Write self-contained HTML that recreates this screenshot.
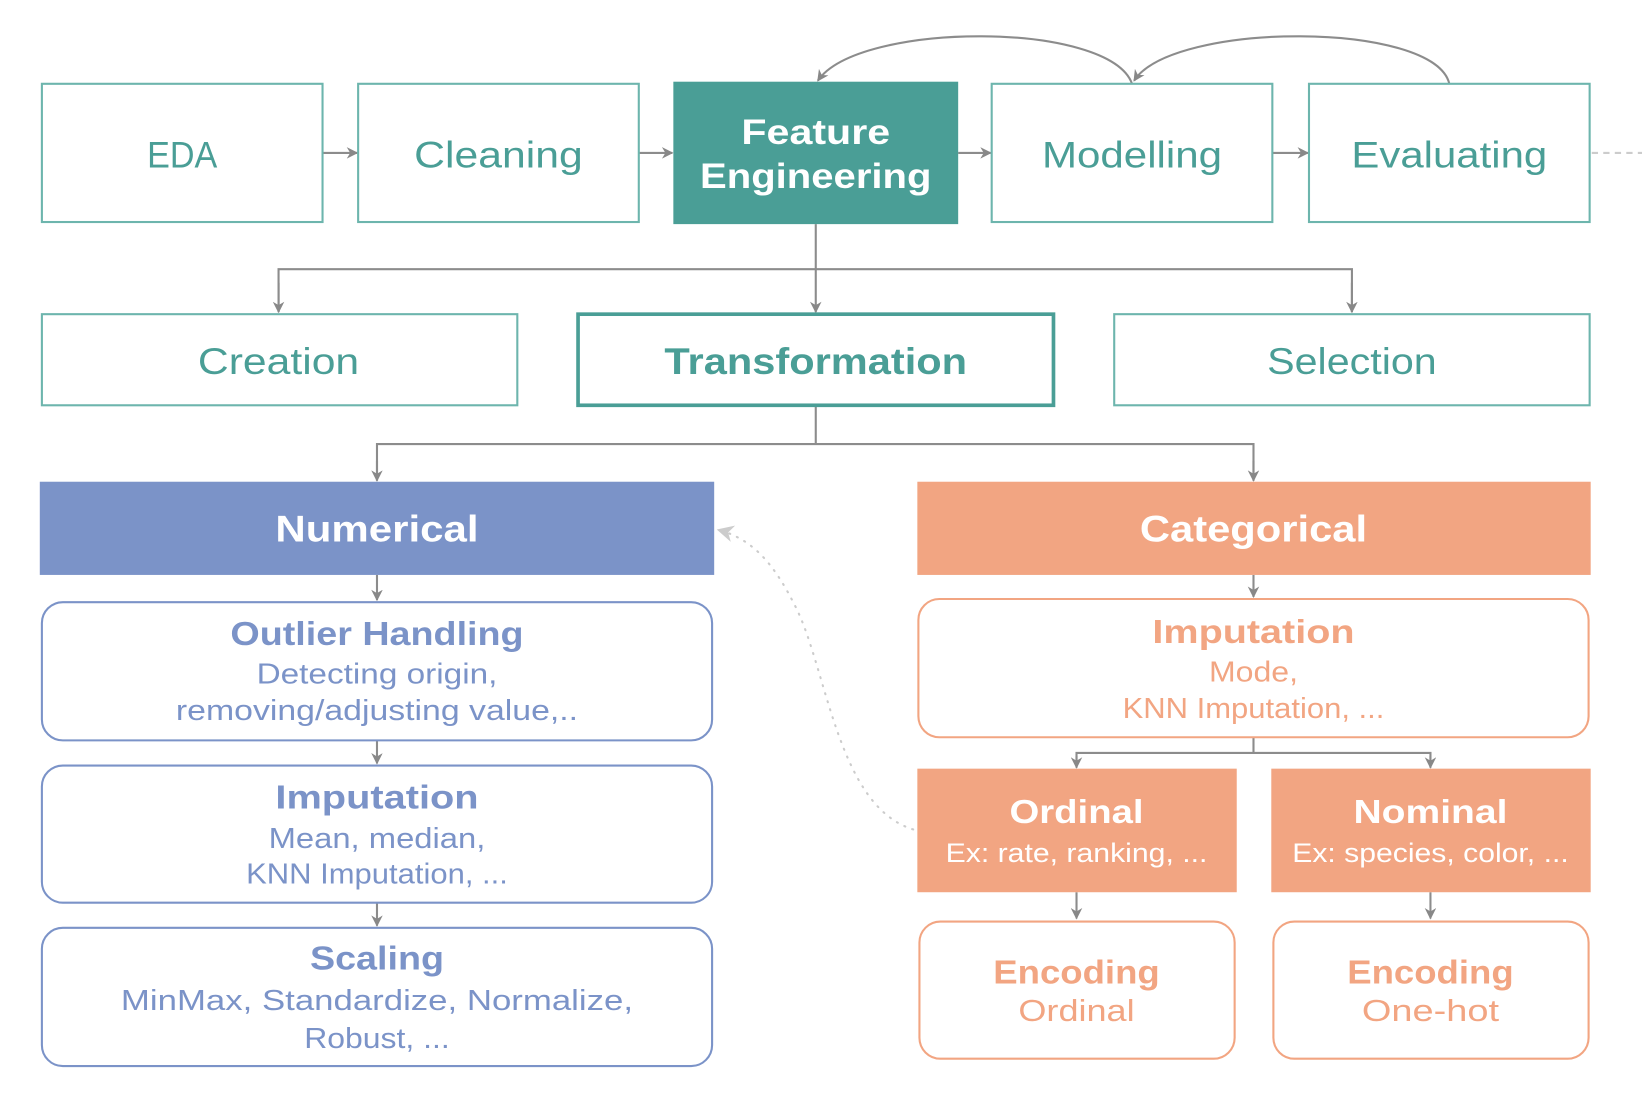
<!DOCTYPE html>
<html><head><meta charset="utf-8"><style>
html,body{margin:0;padding:0;background:#fff;}
svg{display:block;}
text{font-family:"Liberation Sans",sans-serif;text-anchor:middle;dominant-baseline:central;}
</style></head><body>
<svg width="1642" height="1102" viewBox="0 0 1568 1052.3" xmlns="http://www.w3.org/2000/svg">
<defs>
<marker id="a" viewBox="0 0 10 10" refX="9" refY="5" markerWidth="11" markerHeight="11" orient="auto-start-reverse" markerUnits="userSpaceOnUse"><path d="M0,0 L10,5 L0,10 L3,5 z" fill="#888"/></marker>
<marker id="b" viewBox="0 0 10 10" refX="9" refY="5" markerWidth="16" markerHeight="16" orient="auto" markerUnits="userSpaceOnUse"><path d="M0,0 L10,5 L0,10 L3,5 z" fill="#ccc"/></marker>
</defs>
<g stroke="#8c8c8c" stroke-width="2" fill="none">
<line x1="308" y1="146" x2="341" y2="146" marker-end="url(#a)"/>
<line x1="610" y1="146" x2="642" y2="146" marker-end="url(#a)"/>
<line x1="915" y1="146" x2="946" y2="146" marker-end="url(#a)"/>
<line x1="1215" y1="146" x2="1249" y2="146" marker-end="url(#a)"/>
<path d="M1081,80 C1060,20 820,20 781,77" marker-end="url(#a)"/>
<path d="M1384,80 C1370,20 1120,20 1083,77" marker-end="url(#a)"/>
<line x1="779" y1="214" x2="779" y2="298" marker-end="url(#a)"/>
<path d="M266,298 V257 H1291 V298" />
<line x1="266" y1="270" x2="266" y2="298" marker-end="url(#a)"/>
<line x1="1291" y1="270" x2="1291" y2="298" marker-end="url(#a)"/>
<line x1="779" y1="388" x2="779" y2="424"/>
<path d="M360,459 V424 H1197 V459"/>
<line x1="360" y1="440" x2="360" y2="459" marker-end="url(#a)"/>
<line x1="1197" y1="440" x2="1197" y2="459" marker-end="url(#a)"/>
<line x1="360" y1="549" x2="360" y2="573" marker-end="url(#a)"/>
<line x1="360" y1="707" x2="360" y2="729" marker-end="url(#a)"/>
<line x1="360" y1="862" x2="360" y2="884" marker-end="url(#a)"/>
<line x1="1197" y1="549" x2="1197" y2="570" marker-end="url(#a)"/>
<path d="M1197,704 V719 M1028,733 V719 H1366 V733"/>
<line x1="1028" y1="722" x2="1028" y2="733" marker-end="url(#a)"/>
<line x1="1366" y1="722" x2="1366" y2="733" marker-end="url(#a)"/>
<line x1="1028" y1="852" x2="1028" y2="877" marker-end="url(#a)"/>
<line x1="1366" y1="852" x2="1366" y2="877" marker-end="url(#a)"/>
</g>
<line x1="1520" y1="146" x2="1568" y2="146" stroke="#ccc" stroke-width="2" stroke-dasharray="6,5"/>
<path d="M872,792 C800,770 790,640 760,580 C740,540 720,515 686,506" fill="none" stroke="#ccc" stroke-width="2" stroke-dasharray="1,7" stroke-linecap="round" marker-end="url(#b)"/>

<g fill="#fff" stroke="#6db5ad" stroke-width="2">
<rect x="40" y="80" width="268" height="132"/>
<rect x="342" y="80" width="268" height="132"/>
<rect x="947" y="80" width="268" height="132"/>
<rect x="1250" y="80" width="268" height="132"/>
<rect x="40" y="300" width="454" height="87"/>
<rect x="1064" y="300" width="454" height="87"/>
</g>
<rect x="643" y="78" width="272" height="136" fill="#4a9e96"/>
<rect x="552" y="300" width="454" height="87" fill="#fff" stroke="#4a9e96" stroke-width="3.5"/>
<g fill="#4a9e96" font-size="35" lengthAdjust="spacingAndGlyphs">
<text x="174" y="148" textLength="67" lengthAdjust="spacingAndGlyphs">EDA</text>
<text x="476" y="148" textLength="161" lengthAdjust="spacingAndGlyphs">Cleaning</text>
<text x="1081" y="148" textLength="172" lengthAdjust="spacingAndGlyphs">Modelling</text>
<text x="1384" y="148" textLength="187" lengthAdjust="spacingAndGlyphs">Evaluating</text>
<text x="266" y="345" textLength="154" lengthAdjust="spacingAndGlyphs">Creation</text>
<text x="1291" y="345" textLength="162" lengthAdjust="spacingAndGlyphs">Selection</text>
<text x="779" y="345" font-weight="bold" textLength="289" lengthAdjust="spacingAndGlyphs">Transformation</text>
</g>
<text x="779" y="126" fill="#fff" font-weight="bold" font-size="34" textLength="142" lengthAdjust="spacingAndGlyphs">Feature</text>
<text x="779" y="168" fill="#fff" font-weight="bold" font-size="34" textLength="221" lengthAdjust="spacingAndGlyphs">Engineering</text>

<rect x="38" y="460" width="644" height="89" fill="#7b93c8"/>
<text x="360" y="505" fill="#fff" font-weight="bold" font-size="35" textLength="194" lengthAdjust="spacingAndGlyphs">Numerical</text>
<g fill="#fff" stroke="#7b93c8" stroke-width="2">
<rect x="40" y="575" width="640" height="132" rx="20"/>
<rect x="40" y="731" width="640" height="131" rx="20"/>
<rect x="40" y="886" width="640" height="132" rx="20"/>
</g>
<g fill="#7b93c8" font-size="27">
<text x="360" y="606" font-weight="bold" font-size="32" textLength="280" lengthAdjust="spacingAndGlyphs">Outlier Handling</text>
<text x="360" y="643" textLength="230" lengthAdjust="spacingAndGlyphs">Detecting origin,</text>
<text x="360" y="678" textLength="384" lengthAdjust="spacingAndGlyphs">removing/adjusting value,..</text>
<text x="360" y="762" font-weight="bold" font-size="32" textLength="194" lengthAdjust="spacingAndGlyphs">Imputation</text>
<text x="360" y="800" textLength="207" lengthAdjust="spacingAndGlyphs">Mean, median,</text>
<text x="360" y="834" textLength="250" lengthAdjust="spacingAndGlyphs">KNN Imputation, ...</text>
<text x="360" y="916" font-weight="bold" font-size="32" textLength="128" lengthAdjust="spacingAndGlyphs">Scaling</text>
<text x="360" y="955" textLength="489" lengthAdjust="spacingAndGlyphs">MinMax, Standardize, Normalize,</text>
<text x="360" y="991" textLength="139" lengthAdjust="spacingAndGlyphs">Robust, ...</text>
</g>

<rect x="876" y="460" width="643" height="89" fill="#f2a582"/>
<text x="1197" y="505" fill="#fff" font-weight="bold" font-size="35" textLength="217" lengthAdjust="spacingAndGlyphs">Categorical</text>
<rect x="877" y="572" width="640" height="132" rx="20" fill="#fff" stroke="#f2a582" stroke-width="2"/>
<rect x="876" y="734" width="305" height="118" fill="#f2a582"/>
<rect x="1214" y="734" width="305" height="118" fill="#f2a582"/>
<rect x="878" y="880" width="301" height="131" rx="20" fill="#fff" stroke="#f2a582" stroke-width="2"/>
<rect x="1216" y="880" width="301" height="131" rx="20" fill="#fff" stroke="#f2a582" stroke-width="2"/>
<g fill="#f2a582" font-size="27">
<text x="1197" y="604" font-weight="bold" font-size="32" textLength="193" lengthAdjust="spacingAndGlyphs">Imputation</text>
<text x="1197" y="641" textLength="85" lengthAdjust="spacingAndGlyphs">Mode,</text>
<text x="1197" y="676" textLength="250" lengthAdjust="spacingAndGlyphs">KNN Imputation, ...</text>
<text x="1028" y="929" font-weight="bold" font-size="32" textLength="159" lengthAdjust="spacingAndGlyphs">Encoding</text>
<text x="1028" y="966" font-size="29" textLength="111" lengthAdjust="spacingAndGlyphs">Ordinal</text>
<text x="1366" y="929" font-weight="bold" font-size="32" textLength="159" lengthAdjust="spacingAndGlyphs">Encoding</text>
<text x="1366" y="966" font-size="29" textLength="131" lengthAdjust="spacingAndGlyphs">One-hot</text>
</g>
<g fill="#fff" font-size="26">
<text x="1028" y="776" font-weight="bold" font-size="32" textLength="128" lengthAdjust="spacingAndGlyphs">Ordinal</text>
<text x="1028" y="814" textLength="250" lengthAdjust="spacingAndGlyphs">Ex: rate, ranking, ...</text>
<text x="1366" y="776" font-weight="bold" font-size="32" textLength="147" lengthAdjust="spacingAndGlyphs">Nominal</text>
<text x="1366" y="814" textLength="264" lengthAdjust="spacingAndGlyphs">Ex: species, color, ...</text>
</g>
</svg>
</body></html>
